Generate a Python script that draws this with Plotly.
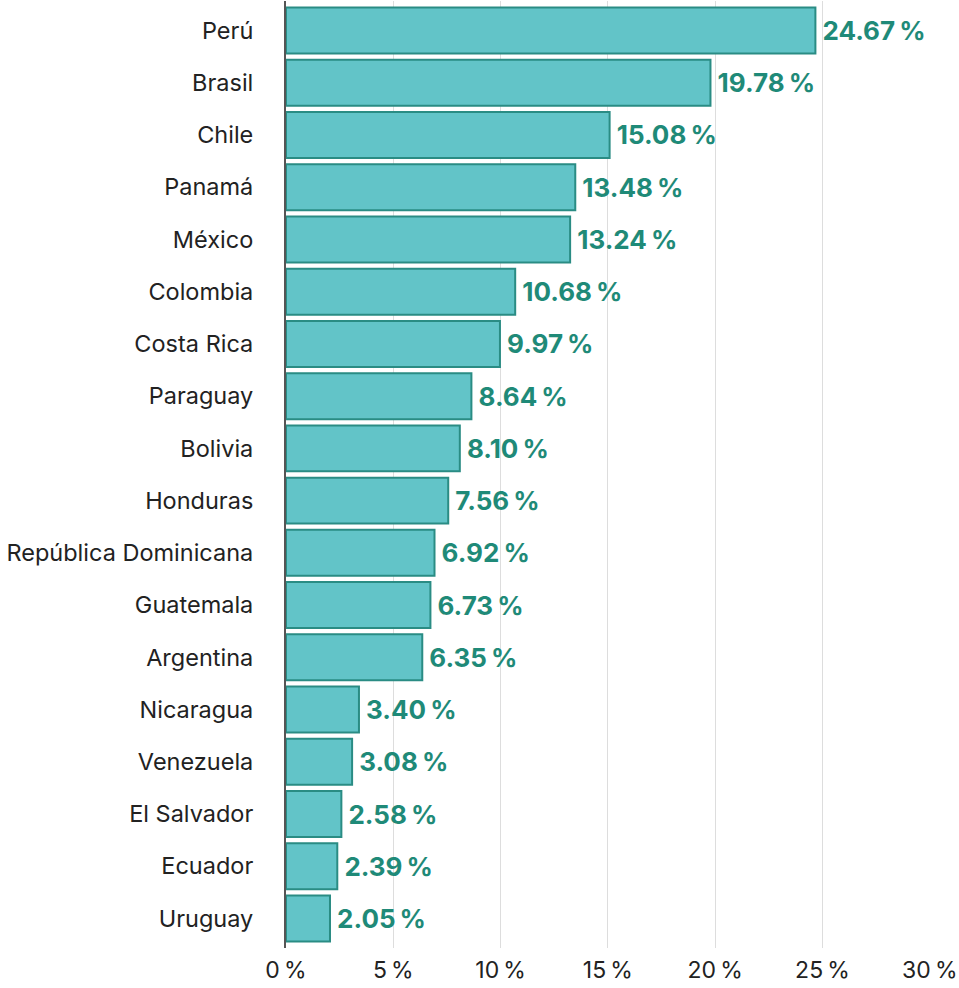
import plotly.graph_objects as go

countries = ["Perú", "Brasil", "Chile", "Panamá", "México", "Colombia", "Costa Rica",
             "Paraguay", "Bolivia", "Honduras", "República Dominicana", "Guatemala",
             "Argentina", "Nicaragua", "Venezuela", "El Salvador", "Ecuador", "Uruguay"]
values = [24.67, 19.78, 15.08, 13.48, 13.24, 10.68, 9.97, 8.64, 8.10, 7.56, 6.92, 6.73,
          6.35, 3.40, 3.08, 2.58, 2.39, 2.05]
tick_vals = [0, 5, 10, 15, 20, 25, 30]
tick_text = ["0\u202f%", "5\u202f%", "10\u202f%", "15\u202f%", "20\u202f%", "25\u202f%", "30\u202f%"]

fig = go.Figure(go.Bar(
    x=values, y=countries, orientation="h",
    marker=dict(color="#62c4c8", line=dict(color="#2a8c84", width=2)),
    text=[f"\u2009{v:.2f}\u202f%" for v in values],
    textposition="outside",
    textfont=dict(family="Inter", size=26, color="#1f8a78", weight="bold"),
    cliponaxis=False,
))
fig.update_layout(
    width=959, height=988,
    margin=dict(l=286, r=29, t=1, b=40, autoexpand=False),
    paper_bgcolor="white", plot_bgcolor="white",
    bargap=0.12, showlegend=False,
    font=dict(family="Inter", color="#222222"),
)
fig.update_xaxes(range=[0, 30.01], tickvals=tick_vals, ticktext=tick_text,
                 showgrid=True, gridcolor="#dddddd", gridwidth=1,
                 zeroline=False, tickfont=dict(size=23, color="#222"), ticks="",
                 ticklabelstandoff=6, showline=False, automargin=False)
fig.update_yaxes(range=[17.565, -0.565], tickfont=dict(size=23.5, color="#222"),
                 ticks="", ticklabelstandoff=26, showline=True, linecolor="#555555",
                 linewidth=2, automargin=False)
fig.write_html("out.html", config={"displayModeBar": False},
               post_script="document.body.style.margin='0';document.body.style.overflow='hidden';")
